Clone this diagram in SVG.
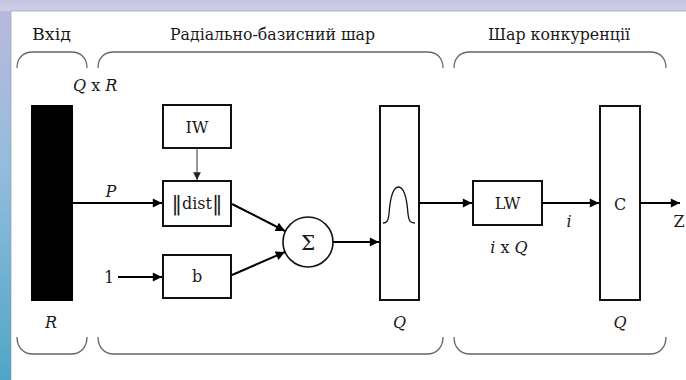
<svg xmlns="http://www.w3.org/2000/svg" width="686" height="380" viewBox="0 0 686 380">
  <defs>
    <linearGradient id="sideBand" x1="0" y1="0" x2="0" y2="1">
      <stop offset="0" stop-color="#bcb9dc"/>
      <stop offset="0.45" stop-color="#93bcdc"/>
      <stop offset="1" stop-color="#4ea6c6"/>
    </linearGradient>
    <linearGradient id="topBand" x1="0" y1="0" x2="0" y2="1">
      <stop offset="0" stop-color="#c6c4e2"/>
      <stop offset="1" stop-color="#cfcde8"/>
    </linearGradient>
    <marker id="arrow" viewBox="0 0 10 10" refX="10" refY="5" markerWidth="5.5" markerHeight="4.6" markerUnits="strokeWidth" orient="auto">
      <path d="M0,0 L10,5 L0,10 Z" fill="#000"/>
    </marker>
    <marker id="arrowThin" viewBox="0 0 10 10" refX="10" refY="5" markerWidth="8" markerHeight="7" markerUnits="strokeWidth" orient="auto">
      <path d="M0,0 L10,5 L0,10 Z" fill="#222"/>
    </marker>
  </defs>
  <style>
    text { font-family: "DejaVu Serif", serif; fill: #1a1a1a; }
    .title { font-size: 16px; }
    .lbl { font-size: 16px; }
    .it { font-style: italic; }
    .box { fill: #fff; stroke: #111; stroke-width: 2; }
    .wire { fill: none; stroke: #000; stroke-width: 2; marker-end: url(#arrow); }
    .thin { fill: none; stroke: #444; stroke-width: 1.1; marker-end: url(#arrowThin); }
    .brace { fill: none; stroke: #666; stroke-width: 1.3; }
  </style>

  <!-- page background with coloured frame -->
  <rect x="0" y="0" width="686" height="380" fill="url(#sideBand)"/>
  <rect x="0" y="0" width="686" height="11" fill="url(#topBand)"/>
  <rect x="11" y="11" width="675" height="369" fill="#fff"/>
  <path d="M11,380 V11 H686" fill="none" stroke="#8a8fb0" stroke-width="1" opacity="0.6"/>

  <!-- layer titles -->
  <g id="titles">
    <text class="title" x="51.5" y="40" text-anchor="middle" textLength="39" lengthAdjust="spacingAndGlyphs">Вхід</text>
    <text class="title" x="272.5" y="40" text-anchor="middle" textLength="205" lengthAdjust="spacingAndGlyphs">Радіально-базисний шар</text>
    <text class="title" x="559" y="40" text-anchor="middle" textLength="142" lengthAdjust="spacingAndGlyphs">Шар конкуренції</text>
  </g>

  <!-- braces above and below each layer -->
  <g id="braces">
    <path class="brace" d="M17,68 C17,58 23,52 33,52 H71 C81,52 87,58 87,68"/>
    <path class="brace" d="M98,68 C98,58 104,52 114,52 H427 C437,52 443,58 443,68"/>
    <path class="brace" d="M454,68 C454,58 460,52 470,52 H650 C660,52 666,58 666,68"/>
    <path class="brace" d="M17,337 C17,347 23,354 33,354 H71 C81,354 87,347 87,337"/>
    <path class="brace" d="M98,337 C98,347 104,354 114,354 H427 C437,354 443,347 443,337"/>
    <path class="brace" d="M454,337 C454,347 460,354 470,354 H650 C660,354 666,347 666,337"/>
  </g>

  <!-- input vector -->
  <g id="input">
    <rect x="31" y="105" width="42" height="196" fill="#000"/>
    <text class="lbl" x="73" y="91"><tspan class="it">Q</tspan> x <tspan class="it">R</tspan></text>
    <text class="lbl it" x="51" y="328" text-anchor="middle">R</text>
  </g>

  <g id="iw">
    <rect class="box" x="163" y="105" width="68" height="43"/>
    <text class="lbl" x="197" y="133" text-anchor="middle">IW</text>
  </g>

  <g id="dist">
    <rect class="box" x="163" y="181" width="68" height="45"/>
    <text class="lbl" x="197" y="209" text-anchor="middle"><tspan font-size="21" dy="1">‖</tspan><tspan dy="-1">dist</tspan><tspan font-size="21" dy="1">‖</tspan></text>
  </g>

  <g id="bias">
    <rect class="box" x="163" y="255" width="68" height="43"/>
    <text class="lbl" x="197" y="282" text-anchor="middle">b</text>
    <text class="lbl" x="109" y="283" text-anchor="middle">1</text>
  </g>

  <g id="sum">
    <circle cx="308" cy="242" r="25" fill="#fff" stroke="#111" stroke-width="1.6"/>
    <text x="308" y="249.5" text-anchor="middle" font-size="20">Σ</text>
  </g>

  <g id="radbas">
    <rect class="box" x="380" y="106" width="39" height="194"/>
    <!-- radial basis (bell) transfer symbol -->
    <path d="M383,223 C387,223 388,221 389,214 C390,200 392,187 398.5,187 C405,187 407,200 408,214 C409,221 410,223 415,223" fill="none" stroke="#111" stroke-width="1.3"/>
    <text class="lbl it" x="399.5" y="328" text-anchor="middle">Q</text>
  </g>

  <g id="lw">
    <rect class="box" x="473" y="181" width="69" height="44"/>
    <text class="lbl" x="507.5" y="209" text-anchor="middle">LW</text>
    <text class="lbl" x="509" y="253" text-anchor="middle"><tspan class="it">i</tspan> x <tspan class="it">Q</tspan></text>
  </g>

  <g id="compet">
    <rect class="box" x="600" y="106" width="40" height="194"/>
    <text class="lbl" x="620" y="210" text-anchor="middle">C</text>
    <text class="lbl it" x="620" y="328" text-anchor="middle">Q</text>
  </g>

  <g id="connectors">
    <path class="wire" d="M73,203 H162"/>
    <text class="lbl it" x="111" y="197" text-anchor="middle">P</text>
    <path class="thin" d="M197,148 V180"/>
    <path class="wire" d="M118,277 H162"/>
    <path class="wire" d="M232,204 L285,231"/>
    <path class="wire" d="M232,275 L285,252"/>
    <path class="wire" d="M333,242 H379"/>
    <path class="wire" d="M419,203 H472"/>
    <path class="wire" d="M542,203 H599"/>
    <text class="lbl it" x="569" y="227" text-anchor="middle">i</text>
    <path class="wire" d="M640,203 H680"/>
    <text class="lbl" x="679" y="227" text-anchor="middle">Z</text>
  </g>
</svg>
